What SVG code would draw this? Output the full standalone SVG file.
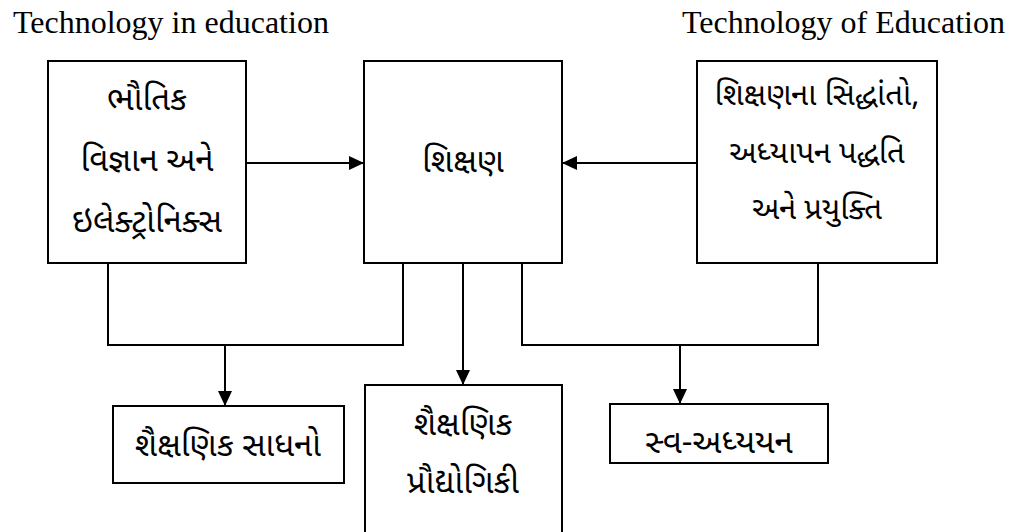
<svg xmlns="http://www.w3.org/2000/svg" width="1019" height="532" viewBox="0 0 1019 532">
  <style>
    .box { fill: #fff; stroke: #000; stroke-width: 2; }
    .line { fill: none; stroke: #000; stroke-width: 2; }
    .en { font-family: "Liberation Serif", "Times New Roman", serif; font-size: 32px; fill: #000; }
    .gu { font-family: "Noto Sans Gujarati", "Lohit Gujarati", "Shruti", "Noto Sans", sans-serif; font-size: 33px; fill: #000; text-anchor: middle; }
    .gu.narrow { font-size: 31px; }
  </style>
  <defs>
    <marker id="arrow" viewBox="0 0 15 14" refX="15" refY="7" markerWidth="15" markerHeight="14" markerUnits="userSpaceOnUse" orient="auto">
      <path d="M0,0 L15,7 L0,14 Z" fill="#000"/>
    </marker>
  </defs>
  <rect width="1019" height="532" fill="#fff"/>

  <!-- headings -->
  <text class="en" x="13" y="33">Technology in education</text>
  <text class="en" x="1005" y="33" text-anchor="end">Technology of Education</text>

  <!-- connectors -->
  <g id="connectors">
    <line class="line" x1="246" y1="163" x2="364" y2="163" marker-end="url(#arrow)"/>
    <line class="line" x1="697" y1="163" x2="562" y2="163" marker-end="url(#arrow)"/>
    <polyline class="line" points="108,263 108,345 403,345 403,263"/>
    <line class="line" x1="225" y1="345" x2="225" y2="406" marker-end="url(#arrow)"/>
    <line class="line" x1="463" y1="263" x2="463" y2="385" marker-end="url(#arrow)"/>
    <polyline class="line" points="522,263 522,345 818,345 818,263"/>
    <line class="line" x1="680" y1="345" x2="680" y2="404" marker-end="url(#arrow)"/>
  </g>

  <g id="physics">
    <rect class="box" x="48" y="61" width="198" height="202"/>
    <text class="gu" x="147" y="110">ભૌતિક</text>
    <text class="gu" x="147" y="171">વિજ્ઞાન અને</text>
    <text class="gu" x="147" y="232">ઇલેક્ટ્રોનિક્સ</text>
  </g>

  <g id="education">
    <rect class="box" x="364" y="61" width="198" height="202"/>
    <text class="gu" x="463" y="172">શિક્ષણ</text>
  </g>

  <g id="principles">
    <rect class="box" x="697" y="61" width="240" height="202"/>
    <text class="gu narrow" x="817" y="105">શિક્ષણના સિદ્ધાંતો,</text>
    <text class="gu narrow" x="817" y="163">અધ્યાપન પદ્ધતિ</text>
    <text class="gu narrow" x="817" y="219">અને પ્રયુક્તિ</text>
  </g>

  <g id="aids">
    <rect class="box" x="113" y="406" width="231" height="77"/>
    <text class="gu" x="228" y="456">શૈક્ષણિક સાધનો</text>
  </g>

  <g id="edtech">
    <rect class="box" x="365" y="385" width="197" height="160"/>
    <text class="gu" x="463" y="435">શૈક્ષણિક</text>
    <text class="gu" x="463" y="493">પ્રૌદ્યોગિકી</text>
  </g>

  <g id="selfstudy">
    <rect class="box" x="610" y="404" width="218" height="59"/>
    <text class="gu" x="719" y="453">સ્વ-અધ્યયન</text>
  </g>
</svg>
